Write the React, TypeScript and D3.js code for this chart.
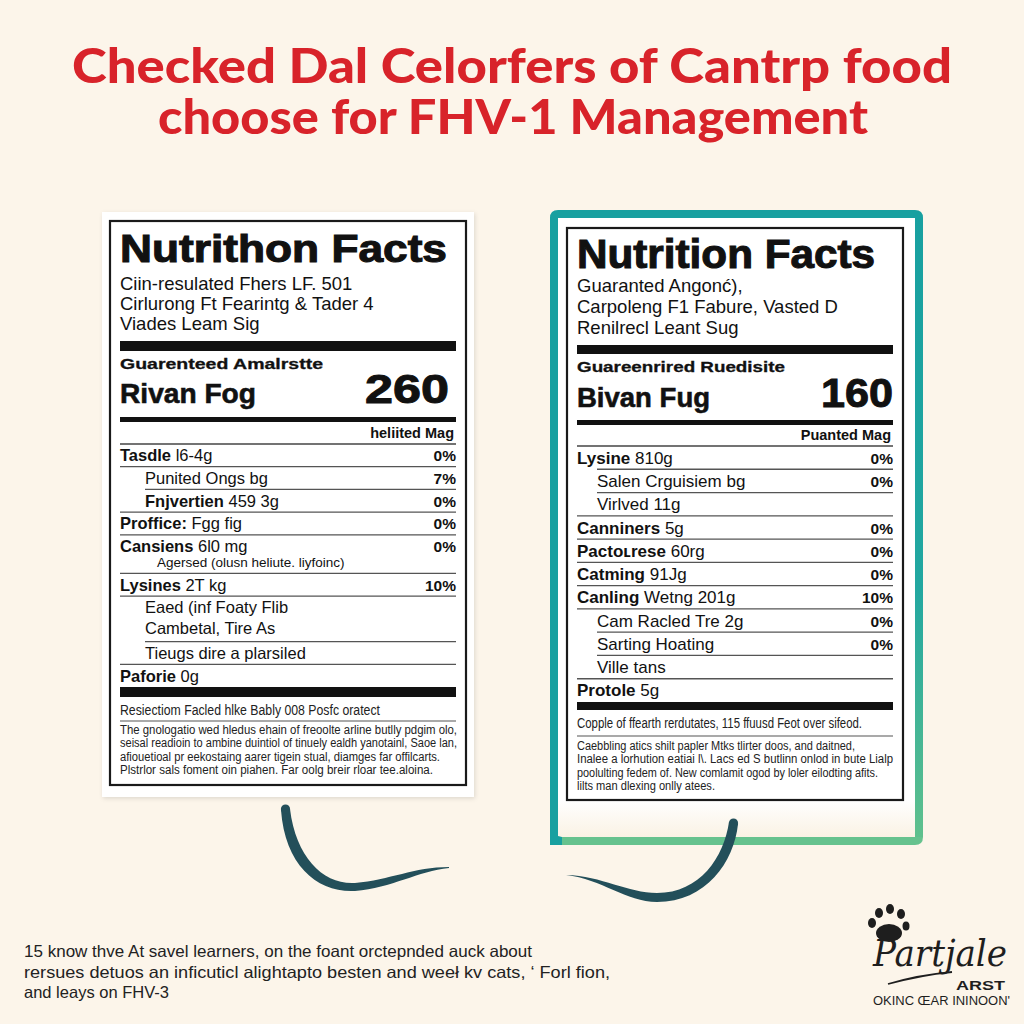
import React from 'react';
import * as d3 from 'd3';

// headline
const titleLines = ['Checked Dal Celorfers of Cantrp food', 'choose for FHV-1 Management'];

// left label
const leftIntro = ['Ciin-resulated Fhers LF. 501', 'Cirlurong  Ft  Fearintg & Tader 4', 'Viades Leam Sig'];
const leftRows = [
  { key: 'Tasdle', text: 'l6-4g', pct: '0%', level: 0 },
  { key: '', text: 'Punited Ongs bg', pct: '7%', level: 1 },
  { key: 'Fnjvertien', text: '459 3g', pct: '0%', level: 1 },
  { key: 'Proffice:', text: 'Fgg fig', pct: '0%', level: 0 },
  { key: 'Cansiens', text: '6l0 mg', pct: '0%', level: 0, note: 'Agersed (olusn heliute. liyfoinc)', noteSmall: true },
  { key: 'Lysines', text: '2T kg', pct: '10%', level: 0 },
  { key: '', text: 'Eaed (inf  Foaty Flib', pct: '', level: 1, note: 'Cambetal, Tire As' },
  { key: '', text: 'Tieugs dire a plarsiled', pct: '', level: 1 },
  { key: 'Paforie', text: '0g', pct: '', level: 0 },
];
const leftShortRules = [1, 6];
const leftFooter = 'Resiectiom Facled hlke Bably 008 Posfc oratect';
const leftParagraph = [
  'The gnologatio wed hledus ehain of freoolte arline butlly pdgim olo,',
  'seisal readioin to ambine duintiol of tinuely ealdh yanotainl, Saoe lan,',
  'afiouetioal pr eekostaing aarer tigein stual, diamges far offilcarts.',
  'Plstrlor sals foment oin piahen. Far oolg breir rloar tee.aloina.',
];

// right label
const rightIntro = ['Guaranted Angonć),', 'Carpoleng F1 Fabure, Vasted D', 'Renilrecl Leant Sug'];
const rightRows = [
  { key: 'Lysine', text: '810g', pct: '0%', level: 0 },
  { key: '', text: 'Salen Crguisiem bg', pct: '0%', level: 1 },
  { key: '', text: 'Virlved 11g', pct: '', level: 1 },
  { key: 'Canniners', text: '5g', pct: '0%', level: 0 },
  { key: 'Pactoʟrese', text: '60rg', pct: '0%', level: 0 },
  { key: 'Catming', text: '91Jg', pct: '0%', level: 0 },
  { key: 'Canling', text: 'Wetng 201g', pct: '10%', level: 0 },
  { key: '', text: 'Cam Racled Tre 2g', pct: '0%', level: 1 },
  { key: '', text: 'Sarting Hoating', pct: '0%', level: 1 },
  { key: '', text: 'Ville tans', pct: '', level: 1 },
  { key: 'Protole', text: '5g', pct: '', level: 0 },
];
const rightShortRules = [0, 1, 7, 8];
const rightFooter = 'Copple of ffearth rerdutates, 115 ffuusd Feot over sifeod.';
const rightParagraph = [
  'Caebbling atics shilt papler Mtks tlirter doos, and daitned,',
  'Inalee a lorhution eatiai l\\. Lacs ed S butlinn onlod in bute Lialp',
  'poolulting fedem of. New comlamit ogod by loler eilodting afits.',
  'lilts man dlexing onlly atees.',
];

const cards = [
  {
    heading: 'Nutrithon Facts', intro: leftIntro, subhead: 'Guarenteed Amalrstte',
    servingLabel: 'Rivan Fog', servingValue: 260, column: 'heliited Mag',
    rows: leftRows, shortRules: leftShortRules, footer: leftFooter, paragraph: leftParagraph,
  },
  {
    heading: 'Nutrition Facts', intro: rightIntro, subhead: 'Guareenrired Ruedisite',
    servingLabel: 'Bivan Fug', servingValue: 160, column: 'Puanted Mag',
    rows: rightRows, shortRules: rightShortRules, footer: rightFooter, paragraph: rightParagraph,
  },
];

const bottomText = [
  '15 know thve At savel learners, on the foant orctepnded auck about',
  'rersues detuos an inficuticl alightapto besten and weeł kv cats,  ‘ Forl fion,',
  'and leays on FHV-3',
];

const SANS = '"Liberation Sans", Arial, sans-serif';

const layouts = [
  {
    border: [110, 221, 466, 785], x0: 120, x1: 456, indent: 145,
    headBase: 262, headSize: 39, headW: 327,
    introBase: [290, 310, 330], introSize: 18.5,
    bar1: [341, 351], subBase: 369, subW: 203, servBase: 403, servW: 136, valW: 84, valX: 449,
    bar2: [417, 422], colBase: 438, rowsTop: 444, rowsBottom: 687, rowSize: 16.5,
    bar3: [687, 697], footBase: 715, footW: 260, footRule: 721,
    paraBase: 734, paraStep: 13.3, paraW: [337, 337, 320, 313],
  },
  {
    border: [567, 228, 903, 800], x0: 577, x1: 893, indent: 597,
    headBase: 268, headSize: 41, headW: 298,
    introBase: [292, 313, 334], introSize: 18.5,
    bar1: [345, 354], subBase: 372, subW: 208, servBase: 407, servW: 133, valW: 72, valX: 893,
    bar2: [420, 425], colBase: 440, rowsTop: 446, rowsBottom: 702, rowSize: 17,
    bar3: [702, 710], footBase: 728, footW: 285, footRule: 736,
    paraBase: 750, paraStep: 13.4, paraW: [278, 316, 301, 138],
  },
];

function Label({ card, lay }: any) {
  const units = card.rows.map((r: any) => (r.note ? (r.noteSmall ? 1.7 : 2) : 1));
  const cum = [0, ...Array.from(d3.cumsum(units))];
  const y = d3.scaleLinear().domain([0, cum[cum.length - 1]]).range([lay.rowsTop, lay.rowsBottom]);
  const unit = y(1) - y(0);
  const [bx0, by0, bx1, by1] = lay.border;
  const w = lay.x1 - lay.x0;

  return (
    <g fontFamily={SANS} fill="#111">
      <rect x={bx0} y={by0} width={bx1 - bx0} height={by1 - by0} fill="#fff" stroke="#1a1a1a" strokeWidth={2.2} />
      <text x={lay.x0} y={lay.headBase} fontSize={lay.headSize} fontWeight={700} stroke="#111" strokeWidth={1.1}
        textLength={lay.headW} lengthAdjust="spacingAndGlyphs">{card.heading}</text>
      {card.intro.map((s: string, i: number) => (
        <text key={i} x={lay.x0} y={lay.introBase[i]} fontSize={lay.introSize}>{s}</text>
      ))}
      <rect x={lay.x0} y={lay.bar1[0]} width={w} height={lay.bar1[1] - lay.bar1[0]} />
      <text x={lay.x0} y={lay.subBase} fontSize={15} fontWeight={700} stroke="#111" strokeWidth={0.3}
        textLength={lay.subW} lengthAdjust="spacingAndGlyphs">{card.subhead}</text>
      <text x={lay.x0} y={lay.servBase} fontSize={28} fontWeight={700} stroke="#111" strokeWidth={0.6}
        textLength={lay.servW} lengthAdjust="spacingAndGlyphs">{card.servingLabel}</text>
      <text x={lay.valX} y={lay.servBase} fontSize={41} fontWeight={700} textAnchor="end" stroke="#111" strokeWidth={1}
        textLength={lay.valW} lengthAdjust="spacingAndGlyphs">{d3.format('d')(card.servingValue)}</text>
      <rect x={lay.x0} y={lay.bar2[0]} width={w} height={lay.bar2[1] - lay.bar2[0]} />
      <text x={lay.x1 - 2} y={lay.colBase} fontSize={14.5} fontWeight={700} textAnchor="end">{card.column}</text>
      <line x1={lay.x0} x2={lay.x1} y1={lay.rowsTop} y2={lay.rowsTop} stroke="#444" strokeWidth={1.3} />

      {card.rows.map((r: any, i: number) => {
        const top = y(cum[i]);
        const base = top + unit * 0.76;
        const tx = r.level ? lay.indent : lay.x0;
        return (
          <g key={i}>
            <text x={tx} y={base} fontSize={lay.rowSize}>
              {r.key && <tspan fontWeight={700}>{r.key}</tspan>}
              {r.key && r.text ? ' ' : ''}
              {r.text}
            </text>
            {r.pct && (
              <text x={lay.x1} y={base} fontSize={15.5} fontWeight={700} textAnchor="end">{r.pct}</text>
            )}
            {r.note && (
              r.noteSmall
                ? <text x={lay.indent + 12} y={base + 15} fontSize={13.5}>{r.note}</text>
                : <text x={tx} y={base + unit * 0.92} fontSize={lay.rowSize}>{r.note}</text>
            )}
            {i < card.rows.length - 1 && (
              <line x1={card.shortRules.includes(i) ? lay.indent : lay.x0} x2={lay.x1}
                y1={y(cum[i + 1])} y2={y(cum[i + 1])} stroke="#555" strokeWidth={1.3} />
            )}
          </g>
        );
      })}

      <rect x={lay.x0} y={lay.bar3[0]} width={w} height={lay.bar3[1] - lay.bar3[0]} />
      <text x={lay.x0} y={lay.footBase} fontSize={14} fill="#222" textLength={lay.footW} lengthAdjust="spacingAndGlyphs">{card.footer}</text>
      <line x1={lay.x0} x2={lay.x1} y1={lay.footRule} y2={lay.footRule} stroke="#555" strokeWidth={1.2} />
      {card.paragraph.map((s: string, i: number) => (
        <text key={i} x={lay.x0} y={lay.paraBase + i * lay.paraStep} fontSize={12.5} fill="#222"
          textLength={lay.paraW[i]} lengthAdjust="spacingAndGlyphs">{s}</text>
      ))}
    </g>
  );
}

export default function App() {
  const W = 1024, H = 1024;
  return (
    <svg width={W} height={H} viewBox={`0 0 ${W} ${H}`}
      style={{ position: 'absolute', left: 0, top: 0, display: 'block' }}>
      <defs>
        <filter id="shadow" x="-5%" y="-5%" width="110%" height="110%">
          <feDropShadow dx="1" dy="1.5" stdDeviation="2" floodColor="#000" floodOpacity="0.12" />
        </filter>
        <linearGradient id="rightEdge" x1="0" y1="0" x2="0" y2="1">
          <stop offset="0" stopColor="#18a0a0" />
          <stop offset="0.6" stopColor="#22a7a0" />
          <stop offset="1" stopColor="#5fc08d" />
        </linearGradient>
        <linearGradient id="innerFade" x1="0" y1="0" x2="0" y2="1">
          <stop offset="0" stopColor="#ffffff" />
          <stop offset="1" stopColor="#faf2e4" />
        </linearGradient>
      </defs>
      <rect width={W} height={H} fill="#fcf5ea" />

      {titleLines.map((s, i) => (
        <text key={i} x={i === 0 ? 72 : 158} y={i === 0 ? 83 : 134} fontSize={47} fontWeight={900}
          fontFamily='Lato, "Open Sans", sans-serif' fill="#d8232a"
          textLength={i === 0 ? 880 : 710} lengthAdjust="spacingAndGlyphs">{s}</text>
      ))}

      {/* left paper */}
      <rect x={102} y={212} width={372} height={585} fill="#fff" filter="url(#shadow)" />

      {/* right frame */}
      <rect x={554} y={214} width={365} height={627} rx={4} fill="#fff" />
      <rect x={558} y={800} width={357} height={37} fill="url(#innerFade)" />
      <path d="M554,841 L554,218 Q554,214 558,214 L915,214" fill="none" stroke="#18a0a0" strokeWidth={8} />
      <path d="M915,214 Q919,214 919,218 L919,837" fill="none" stroke="url(#rightEdge)" strokeWidth={8} />
      <path d="M562,841 L915,841 Q919,841 919,837" fill="none" stroke="#66c28e" strokeWidth={8} />
      <path d="M550,834 L550,845 L562,845 L562,837 Z" fill="#18a0a0" />

      {cards.map((c, i) => <Label key={i} card={c} lay={layouts[i]} />)}

      {/* brush strokes */}
      <g fill="#234f5a">
        <path d="M281,810 C285,866 318,893 355,891 C392,888 418,871 449,868 L449,867 C414,867 390,880 355,883 C324,885 296,858 290,809 Z" />
        <circle cx={285.5} cy={809} r={4.6} />
        <path d="M566,875 C602,879 626,902 657,902 C706,902 734,862 738,824 L729,822 C724,857 700,893 657,893 C628,893 602,876 566,875 Z" />
        <circle cx={733.5} cy={823} r={4.6} />
      </g>

      {bottomText.map((s, i) => (
        <text key={i} x={24} y={957 + i * 20.5} fontSize={16.5} fill="#222" fontFamily={SANS}
          textLength={i === 0 ? 508 : i === 1 ? 586 : undefined}
          lengthAdjust="spacingAndGlyphs">{s}</text>
      ))}

      {/* logo */}
      <g fill="#1e1e1e">
        <ellipse cx={889} cy={933} rx={13} ry={9} />
        <ellipse cx={872} cy={923} rx={4} ry={5} />
        <ellipse cx={879} cy={913} rx={4} ry={5} />
        <ellipse cx={890} cy={909} rx={4} ry={5} />
        <ellipse cx={901} cy={914} rx={4} ry={5} />
        <ellipse cx={906} cy={926} rx={3.5} ry={4.5} />
        <text x={873} y={966} fontSize={37} fontStyle="italic" fontFamily='"DejaVu Serif", serif'
          textLength={134} lengthAdjust="spacingAndGlyphs">Partjale</text>
        <path d="M888,984 Q920,975 952,972" fill="none" stroke="#1e1e1e" strokeWidth={1.8} />
        <text x={956} y={990} fontSize={13.5} fontWeight={700} fontFamily={SANS}
          textLength={49} lengthAdjust="spacingAndGlyphs">ARST</text>
        <text x={873} y={1005} fontSize={12.5} fontFamily={SANS}
          textLength={137} lengthAdjust="spacingAndGlyphs">OKINC ŒAR ININOON'</text>
      </g>
    </svg>
  );
}
